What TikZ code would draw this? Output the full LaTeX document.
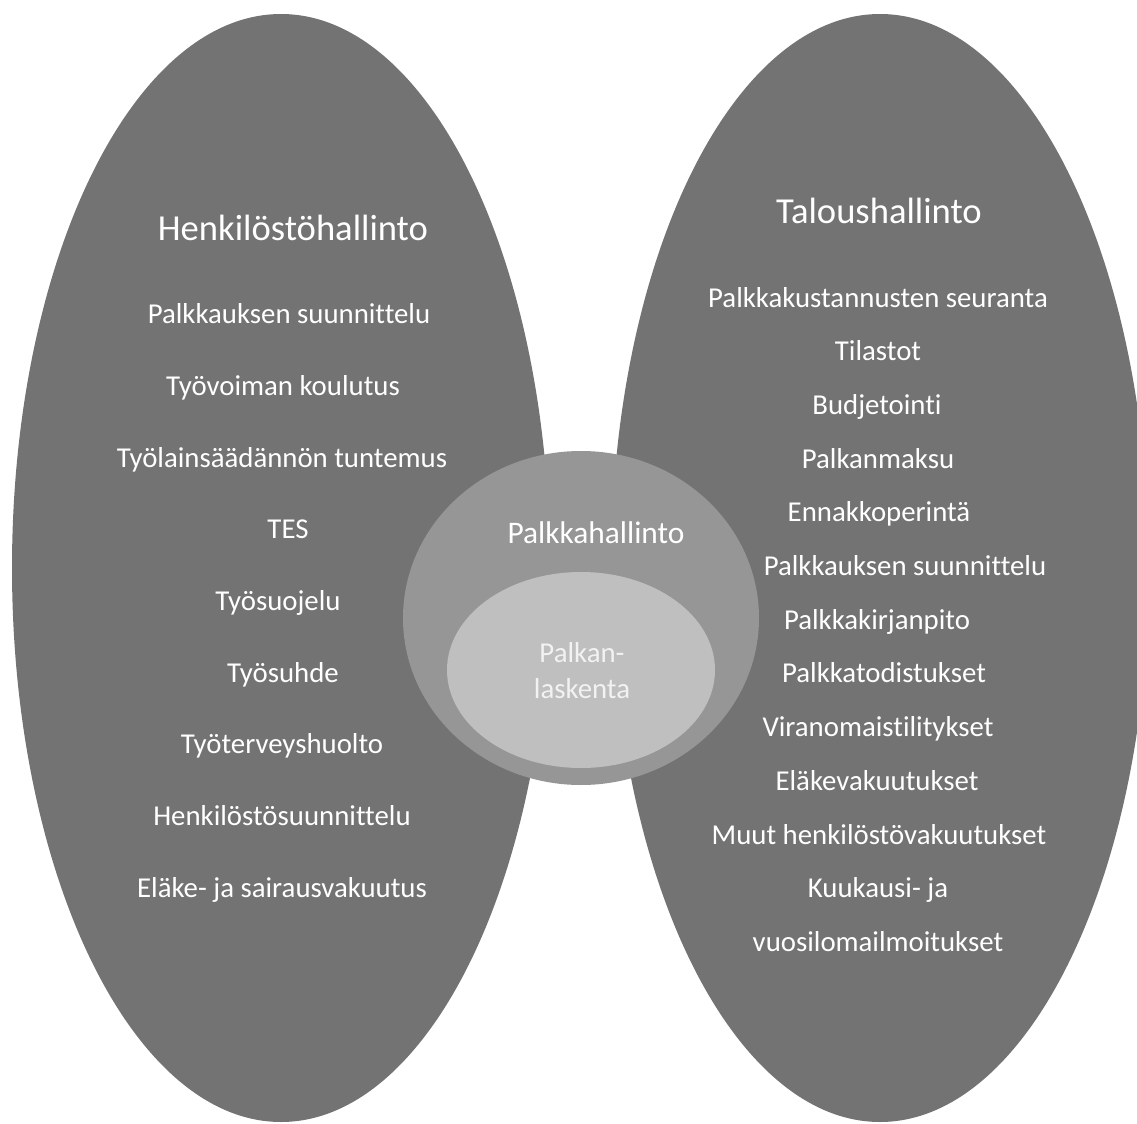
\documentclass[tikz,border=0pt]{standalone}
\usepackage{fontspec}
\setmainfont{Carlito}[Ligatures=NoCommon]
\definecolor{ovalgray}{HTML}{737373}
\definecolor{ringgray}{HTML}{969696}
\definecolor{coregray}{HTML}{BFBFBF}
\begin{document}
\begin{tikzpicture}
        [
            x=0.5pt, y=-0.5pt,
            item/.style={anchor=base, inner sep=0pt, text=white, font=\fontsize{14.4}{17}\selectfont},
            heading/.style={item, font=\fontsize{18.3}{22}\selectfont}
        ]
        \useasboundingbox (0,0) rectangle (1137,1124);
        \clip (0,0) rectangle (1137,1124);
        % Henkilostohallinto
        \fill[ovalgray] (281,568) ellipse [x radius=269, y radius=554];
        % Taloushallinto
        \fill[ovalgray] (880,568) ellipse [x radius=269, y radius=554];
        % Palkkahallinto
        \fill[ringgray] (581,618) ellipse [x radius=178, y radius=167];
        \fill[coregray] (581,670) ellipse [x radius=134, y radius=98];
        % left texts
        \node[heading] (hr) at (293,240) {Henkilöstöhallinto};
        \node[item] (hr1) at (289,323) {Palkkauksen suunnittelu};
        \node[item] (hr2) at (283,395) {Työvoiman koulutus};
        \node[item] (hr3) at (282,467) {Työlainsäädännön tuntemus};
        \node[item] (hr4) at (288,538) {TES};
        \node[item] (hr5) at (278,610) {Työsuojelu};
        \node[item] (hr6) at (283,682) {Työsuhde};
        \node[item] (hr7) at (282,753) {Työterveyshuolto};
        \node[item] (hr8) at (282,825) {Henkilöstösuunnittelu};
        \node[item] (hr9) at (282,897) {Eläke- ja sairausvakuutus};
        % right texts
        \node[heading] (fin) at (879,223) {Taloushallinto};
        \node[item] (fin1) at (878,307) {Palkkakustannusten seuranta};
        \node[item] (fin2) at (878,360.7) {Tilastot};
        \node[item] (fin3) at (877,414.4) {Budjetointi};
        \node[item] (fin4) at (878,468.1) {Palkanmaksu};
        \node[item] (fin5) at (879,521.8) {Ennakkoperintä};
        \node[item] (fin6) at (905,575.5) {Palkkauksen suunnittelu};
        \node[item] (fin7) at (877,629.2) {Palkkakirjanpito};
        \node[item] (fin8) at (884,682.9) {Palkkatodistukset};
        \node[item] (fin9) at (878,736.6) {Viranomaistilitykset};
        \node[item] (fin10) at (877,790.3) {Eläkevakuutukset};
        \node[item] (fin11) at (879,844) {Muut henkilöstövakuutukset};
        \node[item] (fin12) at (878,897.7) {Kuukausi- ja};
        \node[item] (fin13) at (878,951.4) {vuosilomailmoitukset};
        % middle texts
        \node[item, font=\fontsize{15.7}{19}\selectfont] (pay) at (596,543) {Palkkahallinto};
        \node[item, text=white!95!black] (calc1) at (582,662) {Palkan-};
        \node[item, text=white!95!black] (calc2) at (582,698) {laskenta};
\end{tikzpicture}
\end{document}
